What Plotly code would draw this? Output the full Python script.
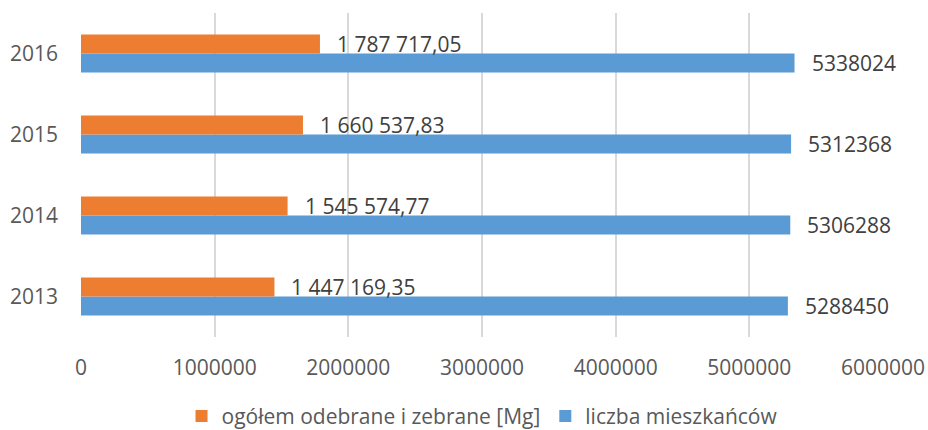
import plotly.graph_objects as go

years = ["2013", "2014", "2015", "2016"]
odebrane = [1447169.35, 1545574.77, 1660537.83, 1787717.05]
odebrane_labels = ["1 447 169,35", "1 545 574,77", "1 660 537,83", "1 787 717,05"]
mieszkancy = [5288450, 5306288, 5312368, 5338024]
mieszkancy_labels = ["5288450", "5306288", "5312368", "5338024"]
x_ticks = [0, 1000000, 2000000, 3000000, 4000000, 5000000, 6000000]

ORANGE = "#ED7D31"
BLUE = "#5B9BD5"
FONT = "Open Sans"

fig = go.Figure()
fig.add_trace(go.Bar(
    y=years, x=mieszkancy, orientation="h", name="liczba mieszkańców",
    marker=dict(color=BLUE, line=dict(width=0)), legendrank=2,
))
fig.add_trace(go.Bar(
    y=years, x=odebrane, orientation="h", name="ogółem odebrane i zebrane [Mg]",
    marker=dict(color=ORANGE, line=dict(width=0)), legendrank=1,
))

annotations = []
for i, (v, lab) in enumerate(zip(odebrane, odebrane_labels)):
    annotations.append(dict(x=v, y=i, text=lab, showarrow=False, xanchor="left",
                            xshift=15, yshift=10, font=dict(family=FONT, size=21, color="#404040")))
for i, (v, lab) in enumerate(zip(mieszkancy, mieszkancy_labels)):
    annotations.append(dict(x=v, y=i, text=lab, showarrow=False, xanchor="left",
                            xshift=15, yshift=-9, font=dict(family=FONT, size=21, color="#404040")))

fig.update_layout(
    width=928, height=430,
    margin=dict(l=81, r=45, t=13, b=93, autoexpand=False),
    paper_bgcolor="white", plot_bgcolor="white",
    barmode="group", bargap=0.53, bargroupgap=0,
    font=dict(family=FONT, size=21, color="#595959"),
    annotations=annotations,
    legend=dict(orientation="h", xref="paper", x=0.5, xanchor="center",
                yref="container", y=0.032, yanchor="middle",
                font=dict(family=FONT, size=21, color="#595959"),
                itemwidth=30, traceorder="normal"),
    showlegend=True,
)
fig.update_xaxes(range=[0, 6000000], tickvals=x_ticks, ticktext=[str(t) for t in x_ticks],
                 showgrid=True, gridcolor="#D9D9D9", gridwidth=1.5, automargin=False,
                 zeroline=False, showline=False, ticklabelstandoff=16,
                 tickfont=dict(family=FONT, size=21, color="#595959"))
fig.update_yaxes(type="category", categoryorder="array", categoryarray=years,
                 range=[-0.5, 3.5], automargin=False,
                 showgrid=False, zeroline=False, showline=False, ticklabelstandoff=22,
                 tickfont=dict(family=FONT, size=21, color="#595959"))

fig.write_html("out.html", config={"displayModeBar": False},
               post_script="document.body.style.margin='0';document.body.style.overflow='hidden';")
